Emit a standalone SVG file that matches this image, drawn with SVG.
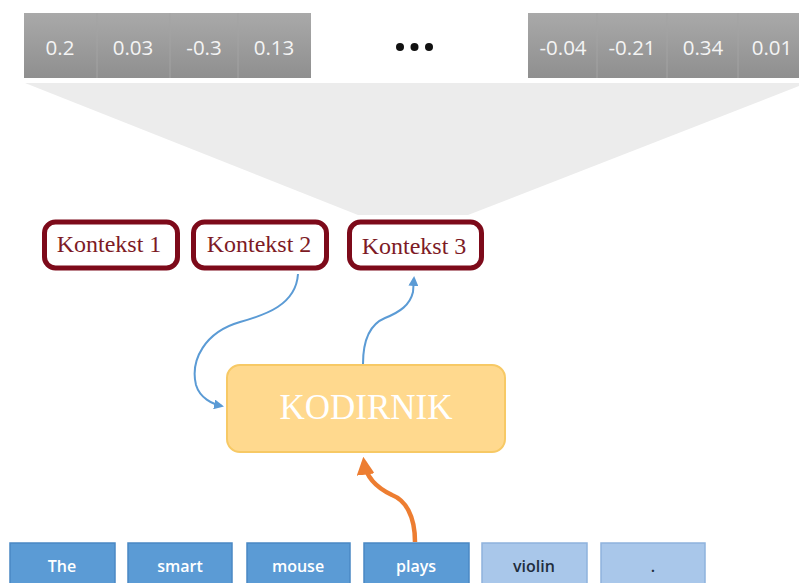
<svg xmlns="http://www.w3.org/2000/svg" width="799" height="583" viewBox="0 0 799 583">
  <defs>
    <linearGradient id="barGrad" x1="0" y1="0" x2="0" y2="1">
      <stop offset="0" stop-color="#a9a9a9"/>
      <stop offset="1" stop-color="#8f8f8f"/>
    </linearGradient>
    <marker id="arrBlue" viewBox="0 0 10 10" refX="8" refY="5" markerWidth="5" markerHeight="5" orient="auto" markerUnits="strokeWidth">
      <path d="M0,0 L10,5 L0,10 z" fill="#5b9bd5"/>
    </marker>
    <marker id="arrOrange" viewBox="0 0 10 10" refX="7" refY="5" markerWidth="4" markerHeight="4" orient="auto" markerUnits="strokeWidth">
      <path d="M0,0 L10,5 L0,10 z" fill="#ed7d31"/>
    </marker>
    <style>
      .cell { fill: url(#barGrad); }
      .div { stroke: #a3a3a3; stroke-width: 1; }
      .num { font-family: "Open Sans", "Liberation Sans", sans-serif; font-size: 20.5px; fill: #f4f4f4; text-anchor: middle; }
      .ctx rect { fill: #ffffff; stroke: #7d0a1a; stroke-width: 5; }
      .ctx text { font-family: "Liberation Serif", serif; font-size: 24px; fill: #7d1a25; text-anchor: middle; }
      .word rect { stroke-width: 1.5; }
      .word.dark rect { fill: #5b9bd5; stroke: #4a88c4; }
      .word.light rect { fill: #a9c7ea; stroke: #8fb3dd; }
      .word text { font-family: "Open Sans", "Liberation Sans", sans-serif; font-size: 16px; font-weight: 600; text-anchor: middle; }
      .word.dark text { fill: #ffffff; }
      .word.light text { fill: #1f2d3d; }
      .blue { fill: none; stroke: #5b9bd5; stroke-width: 2; }
      .orange { fill: none; stroke: #ed7d31; stroke-width: 4.5; }
    </style>
  </defs>

  <rect width="799" height="583" fill="#ffffff"/>

  <!-- projection fan under the vector -->
  <polygon points="25,83 799,83 799,86 468,215 358,215" fill="#ececec"/>

  <!-- embedding vector -->
  <g id="vector-left">
    <rect class="cell" x="24" y="13" width="287" height="65"/>
    <line class="div" x1="97" y1="13" x2="97" y2="78"/>
    <line class="div" x1="170" y1="13" x2="170" y2="78"/>
    <line class="div" x1="238" y1="13" x2="238" y2="78"/>
    <text class="num" x="60" y="55">0.2</text>
    <text class="num" x="133" y="55">0.03</text>
    <text class="num" x="204" y="55">-0.3</text>
    <text class="num" x="274" y="55">0.13</text>
  </g>
  <g id="ellipsis" fill="#111111">
    <circle cx="400" cy="47" r="4"/>
    <circle cx="414.5" cy="47" r="4"/>
    <circle cx="429" cy="47" r="4"/>
  </g>
  <g id="vector-right">
    <rect class="cell" x="528" y="13" width="280" height="65"/>
    <line class="div" x1="597" y1="13" x2="597" y2="78"/>
    <line class="div" x1="667" y1="13" x2="667" y2="78"/>
    <line class="div" x1="738" y1="13" x2="738" y2="78"/>
    <text class="num" x="563" y="55">-0.04</text>
    <text class="num" x="632" y="55">-0.21</text>
    <text class="num" x="703" y="55">0.34</text>
    <text class="num" x="772" y="55">0.01</text>
  </g>

  <!-- context nodes -->
  <g id="ctx1" class="ctx">
    <rect x="44.5" y="222" width="133" height="46" rx="11"/>
    <text x="109" y="252">Kontekst 1</text>
  </g>
  <g id="ctx2" class="ctx">
    <rect x="193.5" y="222" width="133" height="46" rx="11"/>
    <text x="259" y="252">Kontekst 2</text>
  </g>
  <g id="ctx3" class="ctx">
    <rect x="349.5" y="222" width="132" height="46" rx="11"/>
    <text x="414" y="254">Kontekst 3</text>
  </g>

  <!-- encoder -->
  <g id="encoder">
    <rect x="227" y="365" width="278" height="87" rx="13" fill="#ffd98e" stroke="#f7c965" stroke-width="2"/>
    <text x="366" y="419" font-family="Liberation Serif, serif" font-size="35" fill="#ffffff" text-anchor="middle">KODIRNIK</text>
  </g>

  <!-- input tokens -->
  <g id="tok-the" class="word dark">
    <rect x="10" y="543" width="105" height="46"/>
    <text x="62" y="572">The</text>
  </g>
  <g id="tok-smart" class="word dark">
    <rect x="128" y="543" width="104" height="46"/>
    <text x="180" y="572">smart</text>
  </g>
  <g id="tok-mouse" class="word dark">
    <rect x="247" y="543" width="103" height="46"/>
    <text x="298" y="572">mouse</text>
  </g>
  <g id="tok-plays" class="word dark">
    <rect x="364" y="543" width="105" height="46"/>
    <text x="416" y="572">plays</text>
  </g>
  <g id="tok-violin" class="word light">
    <rect x="482" y="543" width="105" height="46"/>
    <text x="534" y="572">violin</text>
  </g>
  <g id="tok-dot" class="word light">
    <rect x="601" y="543" width="104" height="46"/>
    <text x="653" y="572">.</text>
  </g>

  <!-- connectors -->
  <g id="connectors">
    <path class="blue" d="M298,274 C296,305 265,315 240,322 C205,332 190,360 196,385 C200,398 212,404 222,406" marker-end="url(#arrBlue)"/>
    <path class="blue" d="M363,364 C363,345 368,325 385,318 C400,312 410,305 413,292 L414,278" marker-end="url(#arrBlue)"/>
    <path class="orange" d="M415,542 C415,515 405,500 392,495 C375,487 366,477 364,462" marker-end="url(#arrOrange)"/>
  </g>
</svg>
